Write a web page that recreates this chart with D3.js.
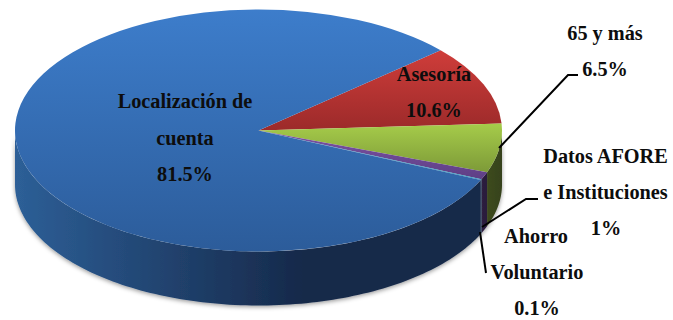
<!DOCTYPE html>
<html>
<head>
<meta charset="utf-8">
<script src="https://cdn.jsdelivr.net/npm/d3@7"></script>
<style>
  html, body { margin: 0; padding: 0; background: #fff; }
  text { font-family: "Liberation Serif", serif; font-weight: bold; fill: #0d0d0d; }
</style>
</head>
<body>
<div id="chart"></div>
<script>
// values
var categories = ["Asesoría", "65 y más", "Datos AFORE e Instituciones", "Ahorro Voluntario", "Localización de cuenta"];
var shares = [10.6, 6.5, 1, 0.1, 81.5];
var labelLines = [
  ["Asesoría", "10.6%"],
  ["65 y más", "6.5%"],
  ["Datos AFORE", "e Instituciones", "1%"],
  ["Ahorro", "Voluntario", "0.1%"],
  ["Localización de", "cuenta", "81.5%"]
];
var topColors = [["#cf3d3a", "#9c2a2a"], ["#a6cc4a", "#7d9a38"], ["#7c52a3", "#5e3f85"], ["#2f9fc0", "#2f9fc0"], ["#3d7dcb", "#2c5c9a"]];
var sideColors = [["#8a2523", "#8a2523"], ["#3d4a1c", "#36421a"], ["#2e2040", "#2a1d3a"], ["#1c4a66", "#1c4a66"], ["#2d5f97", "#16294a", "#15294a"]];

var width = 673, height = 320;
var cx = 258.5, cy = 130.5, rx = 243.5, ry = 121, depth = 54;
var rotation = 48.4 * Math.PI / 180;

var svg = d3.select("#chart").append("svg")
  .attr("width", width)
  .attr("height", height)
  .style("display", "block");

var defs = svg.append("defs");

function addGradient(id, stops, horizontal) {
  var g = defs.append("linearGradient").attr("id", id)
    .attr("x1", 0).attr("y1", 0)
    .attr("x2", horizontal ? 1 : 0).attr("y2", horizontal ? 0 : 1);
  // a third colour holds the dark end over the right part of the wall
  var offsets = stops.length === 3 ? [0, 0.62, 1] : [0, 1];
  stops.forEach(function(c, i) {
    g.append("stop").attr("offset", offsets[i]).attr("stop-color", c);
  });
}
categories.forEach(function(c, i) {
  addGradient("top" + i, topColors[i], false);
  addGradient("side" + i, sideColors[i], true);
});

var shadow = defs.append("filter").attr("id", "shadow")
  .attr("x", "-5%").attr("y", "-5%").attr("width", "110%").attr("height", "115%");
shadow.append("feDropShadow").attr("dx", 0).attr("dy", 1.5)
  .attr("stdDeviation", 2).attr("flood-color", "#000").attr("flood-opacity", 0.4);

var pie = d3.pie().sort(null).value(function(d) { return d; })
  .startAngle(rotation).endAngle(rotation + 2 * Math.PI);
var slices = pie(shares);

// side wall, only the front half of the ellipse shows
var wall = d3.area()
  .x(function(a) { return cx + rx * Math.sin(a); })
  .y0(function(a) { return cy - ry * Math.cos(a); })
  .y1(function(a) { return cy - ry * Math.cos(a) + depth; });

var gSide = svg.append("g").attr("filter", "url(#shadow)");
slices.forEach(function(s, i) {
  var a0 = Math.max(s.startAngle, Math.PI / 2);
  var a1 = Math.min(s.endAngle, 3 * Math.PI / 2);
  if (a1 <= a0) return;
  var steps = d3.range(0, 1.0001, 1 / 120).map(d3.scaleLinear().range([a0, a1]));
  gSide.append("path")
    .attr("d", wall(steps))
    .attr("fill", "url(#side" + i + ")");
});

// top of the pie: circular arcs squashed into the ellipse
var arc = d3.arc().innerRadius(0).outerRadius(rx);
svg.append("g")
  .attr("transform", "translate(" + cx + "," + cy + ") scale(1," + (ry / rx) + ")")
  .selectAll("path")
  .data(slices)
  .enter().append("path")
    .attr("d", arc)
    .attr("fill", function(d, i) { return "url(#top" + i + ")"; });

// leader lines
var leaders = [
  [[499, 148], [568, 75], [578, 75]],
  [[482, 227], [526, 199], [538, 199]],
  [[480, 232], [486, 273]]
];
var line = d3.line();
svg.append("g").selectAll("path")
  .data(leaders)
  .enter().append("path")
    .attr("d", line)
    .attr("fill", "none")
    .attr("stroke", "#000")
    .attr("stroke-width", 2);

// labels
var labelPos = [
  [[434, 81], [434, 117]],
  [[605, 40], [605, 76]],
  [[605.5, 163], [605.5, 199], [606, 235]],
  [[536, 243], [537, 279], [537, 315]],
  [[185, 108], [185, 145], [185, 181]]
];
labelLines.forEach(function(lines, i) {
  lines.forEach(function(t, j) {
    svg.append("text")
      .attr("x", labelPos[i][j][0])
      .attr("y", labelPos[i][j][1])
      .attr("text-anchor", "middle")
      .attr("font-size", 20.3)
      .text(t);
  });
});
</script>
</body>
</html>
